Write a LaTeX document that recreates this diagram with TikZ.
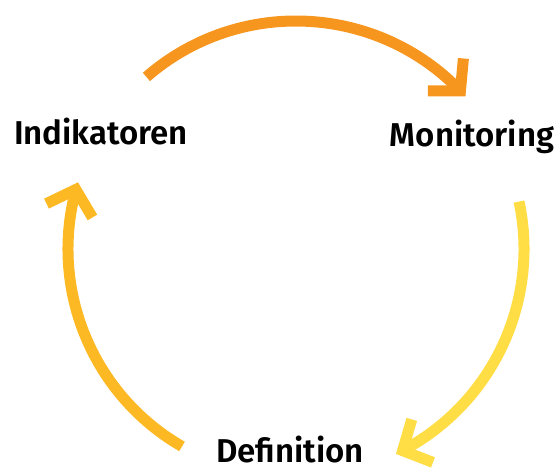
\documentclass[tikz,border=0pt]{standalone}
\usepackage{fontspec}
\newfontfamily\labelfont{Fira Sans SemiBold}
\usetikzlibrary{positioning, arrows.meta, bending}
\definecolor{cycleorange}{HTML}{F7961E}
\definecolor{cycleyellow}{HTML}{FFDD45}
\definecolor{cyclegold}{HTML}{FDB924}

\begin{document}
\begin{tikzpicture}[
    x=1pt, y=1pt,
    phase/.style={anchor=base, inner sep=1pt, font=\labelfont\fontsize{33}{38}\selectfont, text=black},
    arrow/.style={line width=11pt, -{Straight Barb[length=22pt, width=48pt, sharp]}}
]
    \useasboundingbox (0,0) rectangle (557,468);

    % Centre of the cycle
    \coordinate (c) at (296,219);

    % Phases
    \node[phase] (ind) at (101,323) {Indikatoren};
    \node[phase] (mon) at (472,321) {Monitoring};
    \node[phase] (def) at (290,5) {Definition};

    % Arrows
    \draw[arrow, cycleorange] ([shift={(131:228pt)}]c) arc[start angle=131, end angle=42, radius=228pt];
    \draw[arrow, cycleyellow] ([shift={(12:228pt)}]c) arc[start angle=12, end angle=-64, radius=228pt];
    \draw[arrow, cyclegold] ([shift={(240:228pt)}]c) arc[start angle=240, end angle=163, radius=228pt];

\end{tikzpicture}
\end{document}
